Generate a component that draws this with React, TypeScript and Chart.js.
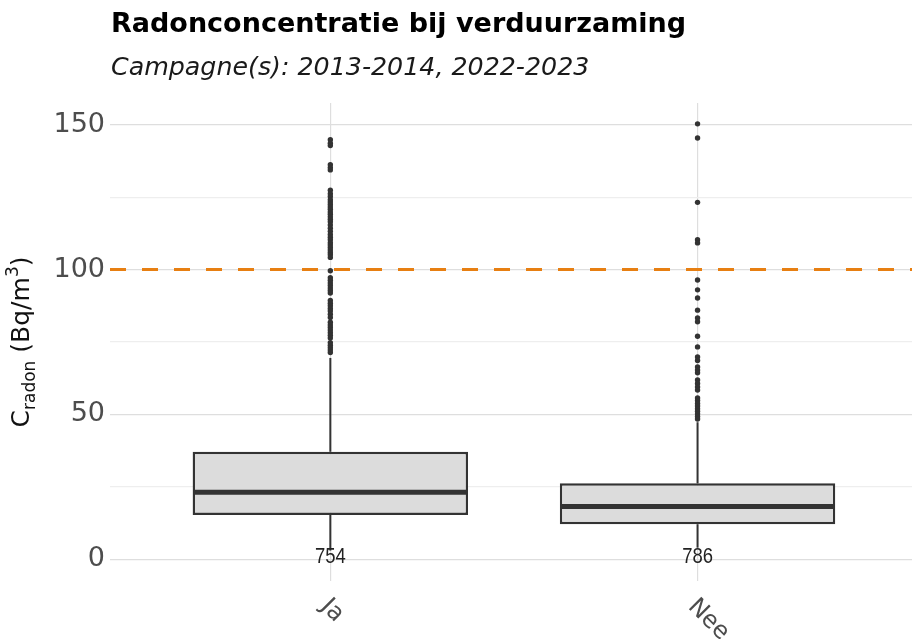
import React, { useEffect, useRef } from 'react';
import { Chart, registerables } from 'chart.js';

Chart.register(...registerables);

// ---- data ----
const categories = ['Ja', 'Nee'];
const counts = [754, 786];
const q1 = [15.3, 12.1];
const medians = [23.1, 18.2];
const q3 = [37.1, 26.2];
const whiskerLow = [3, 4];
const whiskerHigh = [69.5, 47.3];
const outliersJa = [
  144.8, 143.6, 142.8, 136.2, 135.2, 134.4, 127.4, 126.2, 125.2, 124.1, 123.3, 122.5,
  121.6, 120.8, 119.9, 119.1, 118.2, 117.4, 116.5, 115.4, 114.3, 113.2, 112.1, 111.2,
  110.3, 109.3, 108.5, 107.6, 106.8, 105.9, 105.1, 104.2, 99.6, 97.2, 96.3, 95.4, 94.5,
  93.6, 92.8, 91.9, 89.3, 88.4, 87.5, 86.6, 85.7, 84.6, 83.5, 81.8, 80.9, 80.0, 79.1,
  78.2, 77.3, 76.4, 74.8, 73.9, 73.0, 72.2, 71.4,
];
const outliersNee = [
  150.3, 145.4, 123.2, 110.3, 109.2, 96.4, 93.0, 90.2, 86.0, 83.3, 82.0, 77.0, 73.3,
  69.8, 68.6, 66.4, 65.3, 64.4, 61.9, 60.7, 59.5, 58.4, 55.7, 54.8, 53.8, 52.9, 52.0,
  51.1, 50.2, 49.3, 48.4,
];
const outliers = [outliersJa, outliersNee];
const threshold = 100;
const yTickValues = [0, 25, 50, 75, 100, 125, 150];
const yLabelStep = 50;
const yMin = -7.5;
const yMax = 157.5;
const xMin = 0.4;
const xMax = 2.584;
const boxWidth = 0.75;

const TITLE = 'Radonconcentratie bij verduurzaming';
const SUBTITLE = 'Campagne(s): 2013-2014, 2022-2023';

const DARK = '#333333';
const FONT = "'DejaVu Sans', Verdana, sans-serif";

export default function App() {
  const ref = useRef<HTMLCanvasElement | null>(null);

  useEffect(() => {
    if (!ref.current) return;
    const pos = (i: number) => i + 1;

    const datasets: any[] = [];
    // boxes
    datasets.push({
      type: 'bar',
      data: categories.map((_, i) => ({ x: pos(i), y: [q1[i], q3[i]] })),
      backgroundColor: '#dcdcdc',
      borderColor: DARK,
      borderWidth: 2.4,
      borderSkipped: false,
      barPercentage: boxWidth,
      categoryPercentage: 1,
      order: 5,
    });
    categories.forEach((_, i) => {
      // whiskers
      datasets.push({
        type: 'scatter',
        showLine: true,
        data: [{ x: pos(i), y: q3[i] }, { x: pos(i), y: whiskerHigh[i] }],
        borderColor: DARK,
        borderWidth: 2,
        pointRadius: 0,
        order: 4,
      });
      datasets.push({
        type: 'scatter',
        showLine: true,
        data: [{ x: pos(i), y: whiskerLow[i] }, { x: pos(i), y: q1[i] }],
        borderColor: DARK,
        borderWidth: 2,
        pointRadius: 0,
        order: 4,
      });
      // median
      datasets.push({
        type: 'scatter',
        showLine: true,
        data: [
          { x: pos(i) - boxWidth / 2 + 0.003, y: medians[i] },
          { x: pos(i) + boxWidth / 2 - 0.003, y: medians[i] },
        ],
        borderColor: DARK,
        borderWidth: 5,
        pointRadius: 0,
        borderCapStyle: 'butt',
        order: 3,
      });
      // outliers
      datasets.push({
        type: 'scatter',
        data: outliers[i].map((v) => ({ x: pos(i), y: v })),
        backgroundColor: DARK,
        borderWidth: 0,
        pointRadius: 2.7,
        order: 2,
      });
    });
    // threshold
    datasets.push({
      type: 'scatter',
      showLine: true,
      data: [{ x: xMin, y: threshold }, { x: xMax, y: threshold }],
      borderColor: '#e77f12',
      borderWidth: 3,
      borderDash: [16, 16],
      pointRadius: 0,
      order: 1,
    });

    const textPlugin = {
      id: 'texts',
      afterDatasetsDraw(chart: any) {
        const { ctx, chartArea, scales } = chart;
        const x = scales.x;
        const y = scales.y;
        ctx.save();
        // counts
        ctx.font = "22px 'Liberation Sans Narrow', 'Liberation Sans', sans-serif";
        ctx.fillStyle = '#222222';
        ctx.textAlign = 'center';
        ctx.textBaseline = 'alphabetic';
        counts.forEach((c, i) => {
          ctx.save();
          ctx.translate(x.getPixelForValue(pos(i)), y.getPixelForValue(0) + 4);
          ctx.scale(0.84, 1);
          ctx.fillText(String(c), 0, 0);
          ctx.restore();
        });
        // x labels rotated
        ctx.font = `24px ${FONT}`;
        ctx.fillStyle = '#4d4d4d';
        ctx.textAlign = 'left';
        ctx.textBaseline = 'middle';
        categories.forEach((c, i) => {
          ctx.save();
          ctx.translate(x.getPixelForValue(pos(i)) - 6, chartArea.bottom + 22);
          ctx.rotate(Math.PI / 4);
          ctx.fillText(c, 0, 0);
          ctx.restore();
        });
        // title
        ctx.textAlign = 'left';
        ctx.textBaseline = 'alphabetic';
        ctx.fillStyle = '#000000';
        ctx.font = `bold 27px ${FONT}`;
        ctx.fillText(TITLE, chartArea.left + 1, 32);
        ctx.fillStyle = '#1a1a1a';
        ctx.font = `italic 25.3px ${FONT}`;
        ctx.fillText(SUBTITLE, chartArea.left + 1, 75);
        // y-axis title with sub/superscript
        const cy = (chartArea.top + chartArea.bottom) / 2;
        const main = `25px ${FONT}`;
        const small = `17px ${FONT}`;
        const parts: [string, string, number][] = [
          ['C', main, 0],
          ['radon', small, 6],
          [' (Bq/m', main, 0],
          ['3', small, -11],
          [')', main, 0],
        ];
        let total = 0;
        parts.forEach(([t, f]) => {
          ctx.font = f;
          total += ctx.measureText(t).width;
        });
        ctx.translate(29, cy);
        ctx.rotate(-Math.PI / 2);
        ctx.fillStyle = '#111111';
        let cx = -total / 2;
        parts.forEach(([t, f, dy]) => {
          ctx.font = f;
          ctx.fillText(t, cx, dy);
          cx += ctx.measureText(t).width;
        });
        ctx.restore();
      },
    };

    const chart = new Chart(ref.current, {
      type: 'scatter',
      data: { datasets },
      options: {
        animation: false,
        responsive: false,
        devicePixelRatio: 1,
        layout: { padding: { top: 103, left: 0, right: 0, bottom: 0 } },
        plugins: { legend: { display: false }, tooltip: { enabled: false } },
        scales: {
          x: {
            type: 'linear',
            min: xMin,
            max: xMax,
            offset: false,
            afterBuildTicks: (s: any) => {
              s.ticks = categories.map((_, i) => ({ value: pos(i) }));
            },
            afterFit: (s: any) => {
              s.height = 58;
            },
            ticks: { display: false },
            grid: { offset: false, color: '#dedede', lineWidth: 1.2, drawTicks: false },
            border: { display: false },
          },
          y: {
            type: 'linear',
            min: yMin,
            max: yMax,
            afterBuildTicks: (s: any) => {
              s.ticks = yTickValues.map((v) => ({ value: v }));
            },
            afterFit: (s: any) => {
              s.width = 110;
            },
            ticks: {
              padding: 5,
              color: '#4d4d4d',
              font: { family: FONT, size: 27 },
              callback: (v: any) => (Number(v) % yLabelStep === 0 ? String(v) : ''),
            },
            grid: {
              drawTicks: false,
              lineWidth: 1.2,
              color: (c: any) => (c.tick && c.tick.value % yLabelStep === 0 ? '#dedede' : '#eeeeee'),
            },
            border: { display: false },
          },
        },
      },
      plugins: [textPlugin],
    });
    return () => chart.destroy();
  }, []);

  return (
    <div style={{ position: 'fixed', left: 0, top: 0, width: 916, height: 639, background: '#ffffff' }}>
      <canvas ref={ref} width={916} height={639} />
    </div>
  );
}
